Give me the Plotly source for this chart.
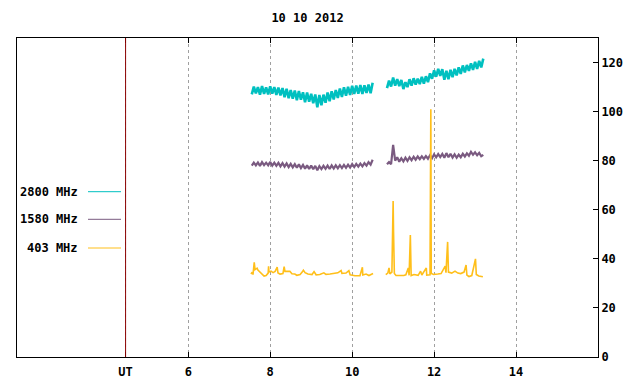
import plotly.graph_objects as go

# ---------------- data ----------------
title_text = "10 10 2012"
ut_hour = 4.47
x_ticks = [6, 8, 10, 12, 14]
y_ticks = [0, 20, 40, 60, 80, 100, 120]
series_names = ["2800 MHz", "1580 MHz", "403 MHz"]
series_colors = ["#00c0c0", "#7a5a80", "#ffbf1a"]

# time grids (hours UT) for the two recording blocks
t_a = [round(7.55 + 0.05 * i, 2) for i in range(60)]
t_b = [round(10.85 + 0.05 * i, 2) for i in range(48)]

f2800_a = [107.0, 110.2, 107.4, 110.0, 106.9, 110.4, 107.2, 109.9, 107.0, 110.3,
           107.3, 110.0, 106.8, 109.8, 106.6, 109.6, 105.9, 109.3, 105.5, 108.8,
           105.3, 108.6, 104.6, 108.4, 104.9, 107.9, 103.8, 107.8, 104.0, 107.3,
           103.4, 107.0, 101.8, 106.8, 102.6, 106.9, 103.6, 107.8, 104.2, 108.3,
           105.0, 108.8, 105.6, 109.4, 106.0, 109.9, 106.5, 110.1, 106.8, 110.5,
           107.2, 110.6, 107.3, 110.8, 107.2, 110.7, 107.6, 111.0, 107.5, 111.8]
f2800_b = [109.6, 112.6, 110.2, 113.9, 110.6, 113.2, 110.4, 112.9, 109.2, 112.0,
           110.0, 113.2, 110.6, 113.6, 111.0, 113.4, 111.2, 114.2, 111.4, 114.4,
           112.0, 115.6, 113.4, 116.8, 114.2, 117.4, 114.6, 117.3, 113.0, 116.6,
           113.2, 117.0, 114.0, 117.4, 114.8, 118.0, 115.4, 118.8, 116.0, 119.0,
           116.6, 119.7, 117.0, 120.3, 117.4, 120.7, 118.0, 121.6]

f1580_a = [78.0, 79.2, 78.1, 79.3, 77.9, 79.4, 78.2, 79.2, 78.1, 79.5,
           78.0, 79.2, 77.9, 79.1, 77.7, 79.0, 77.6, 78.9, 77.4, 78.7,
           77.3, 78.6, 77.1, 78.5, 77.0, 78.3, 76.7, 78.1, 76.6, 78.0,
           76.5, 77.9, 76.1, 77.8, 76.6, 77.9, 76.7, 78.0, 76.6, 78.1,
           76.8, 78.1, 76.9, 78.2, 77.0, 78.3, 77.1, 78.4, 77.2, 78.6,
           77.4, 78.7, 77.6, 78.8, 77.7, 79.0, 78.0, 79.4, 78.4, 80.4]
f1580_b = [78.5, 79.4, 78.6, 86.4, 80.0, 81.4, 79.6, 81.0, 79.7, 81.2,
           79.9, 81.4, 80.2, 81.6, 80.4, 81.7, 80.6, 81.8, 80.7, 81.9,
           80.8, 82.2, 81.0, 82.6, 81.4, 82.7, 81.5, 82.8, 81.2, 83.1,
           81.4, 82.8, 81.3, 82.6, 81.2, 82.5, 81.4, 82.8, 81.7, 83.0,
           82.0, 83.6, 82.4, 83.4, 82.2, 83.2, 81.8, 82.4]

t403_a = [7.53, 7.56, 7.58, 7.61, 7.63, 7.68, 7.70, 7.75, 7.80, 7.85,
          7.90, 7.95, 7.96, 7.97, 8.02, 8.07, 8.12, 8.17, 8.19, 8.24,
          8.31, 8.34, 8.36, 8.48, 8.53, 8.60, 8.65, 8.73, 8.78, 8.81,
          8.85, 8.92, 9.02, 9.07, 9.12, 9.21, 9.31, 9.36, 9.46, 9.56,
          9.65, 9.73, 9.75, 9.85, 9.92, 9.95, 10.07, 10.19, 10.25, 10.26,
          10.34, 10.41, 10.51]
f403_a = [33.8, 34.5, 33.6, 38.6, 35.6, 36.2, 35.4, 34.6, 33.6, 33.0,
          33.2, 34.2, 37.0, 34.6, 35.0, 34.4, 34.9, 36.6, 34.2, 33.8,
          34.0, 36.8, 34.9, 34.9, 33.9, 33.8, 33.3, 33.6, 34.6, 35.4,
          34.4, 33.8, 33.6, 34.8, 33.5, 33.6, 34.3, 33.7, 33.8, 34.0,
          34.3, 35.2, 34.1, 34.2, 35.2, 33.5, 33.1, 33.1, 36.6, 33.4,
          33.8, 33.2, 34.0]
t403_b = [10.82, 10.87, 10.90, 10.92, 10.97, 11.00, 11.01, 11.03, 11.07, 11.17,
          11.26, 11.31, 11.37, 11.39, 11.42, 11.44, 11.51, 11.61, 11.67, 11.70,
          11.81, 11.82, 11.90, 11.91, 11.92, 11.93, 11.99, 12.09, 12.17, 12.27,
          12.29, 12.33, 12.35, 12.43, 12.51, 12.58, 12.65, 12.73, 12.78, 12.80,
          12.85, 12.92, 13.01, 13.03, 13.09, 13.19]
f403_b = [33.6, 34.2, 36.3, 33.9, 34.6, 63.6, 51.0, 34.0, 33.2, 33.1,
          33.2, 33.5, 36.3, 33.3, 49.7, 33.2, 33.6, 33.3, 35.0, 33.4,
          36.3, 33.4, 33.5, 67.0, 101.0, 34.0, 33.6, 33.8, 34.0, 37.0,
          34.4, 46.9, 34.6, 34.2, 35.0, 34.2, 34.0, 34.6, 37.5, 33.4,
          32.8, 33.2, 40.0, 33.6, 33.0, 32.7]

# ---------------- figure ----------------
FONT = "DejaVu Sans Mono"
fig = go.Figure()

series = [
    (t_a + [None] + t_b, f2800_a + [None] + f2800_b, 2.6),
    (t_a + [None] + t_b, f1580_a + [None] + f1580_b, 2.2),
    (t403_a + [None] + t403_b, f403_a + [None] + f403_b, 1.6),
]
for (xs, ys, lw), name, col in zip(series, series_names, series_colors):
    fig.add_trace(go.Scatter(x=xs, y=ys, mode="lines", name=name,
                             line=dict(color=col, width=lw), connectgaps=False,
                             showlegend=False))

# UT reference line
fig.add_shape(type="line", xref="x", yref="paper", x0=ut_hour, x1=ut_hour,
              y0=0, y1=1, line=dict(color="#8b0000", width=1), layer="above")

# page body adds an 8px offset; figure coordinates are compensated for it
OFF = 8
plot_top, plot_bottom, plot_left, plot_right = 38 - OFF, 357 - OFF, 17 - OFF, 598 - OFF

# legend drawn gnuplot-style (label then sample line)
legend_y_px = [191.7 - OFF, 219.3 - OFF, 248.0 - OFF]
for name, col, py in zip(series_names, series_colors, legend_y_px):
    yp = (plot_bottom - py) / (plot_bottom - plot_top)
    fig.add_annotation(text=name, xref="paper", yref="paper",
                       x=(80 - OFF - plot_left) / (plot_right - plot_left), y=yp,
                       xanchor="right", yanchor="middle", showarrow=False,
                       font=dict(family=FONT, size=12, color="black", weight="bold"))
    fig.add_shape(type="line", xref="paper", yref="paper",
                  x0=(88 - OFF - plot_left) / (plot_right - plot_left),
                  x1=(121 - OFF - plot_left) / (plot_right - plot_left),
                  y0=yp, y1=yp, line=dict(color=col, width=1))

fig.update_layout(
    width=640, height=384,
    margin=dict(l=plot_left, r=640 - plot_right, t=plot_top, b=384 - plot_bottom,
                autoexpand=False),
    paper_bgcolor="white", plot_bgcolor="white",
    title=dict(text=title_text, x=0.5, xref="paper", xanchor="center",
               y=1 - (18 - OFF) / 384, yref="container", yanchor="middle",
               font=dict(family=FONT, size=12, color="black", weight="bold")),
    font=dict(family=FONT, size=12, color="black", weight="bold"),
    showlegend=False,
)
fig.update_xaxes(
    range=[1.82, 16.0], automargin=False,
    tickvals=[ut_hour] + x_ticks,
    ticktext=["UT"] + [str(v) for v in x_ticks],
    ticks="inside", ticklen=5, tickcolor="black",
    showline=True, linecolor="black", linewidth=1, mirror="ticks",
    showgrid=True, gridcolor="#a0a0a0", griddash="dot", gridwidth=1,
    zeroline=False, ticklabelstandoff=4,
    tickfont=dict(family=FONT, size=12, color="black", weight="bold"),
)
fig.update_yaxes(
    range=[0, 130], side="right", automargin=False,
    tickvals=y_ticks,
    ticks="inside", ticklen=5, tickcolor="black",
    showline=True, linecolor="black", linewidth=1, mirror=True,
    showgrid=False, zeroline=False,
    tickfont=dict(family=FONT, size=12, color="black", weight="bold"),
)

fig.write_html("out.html")
